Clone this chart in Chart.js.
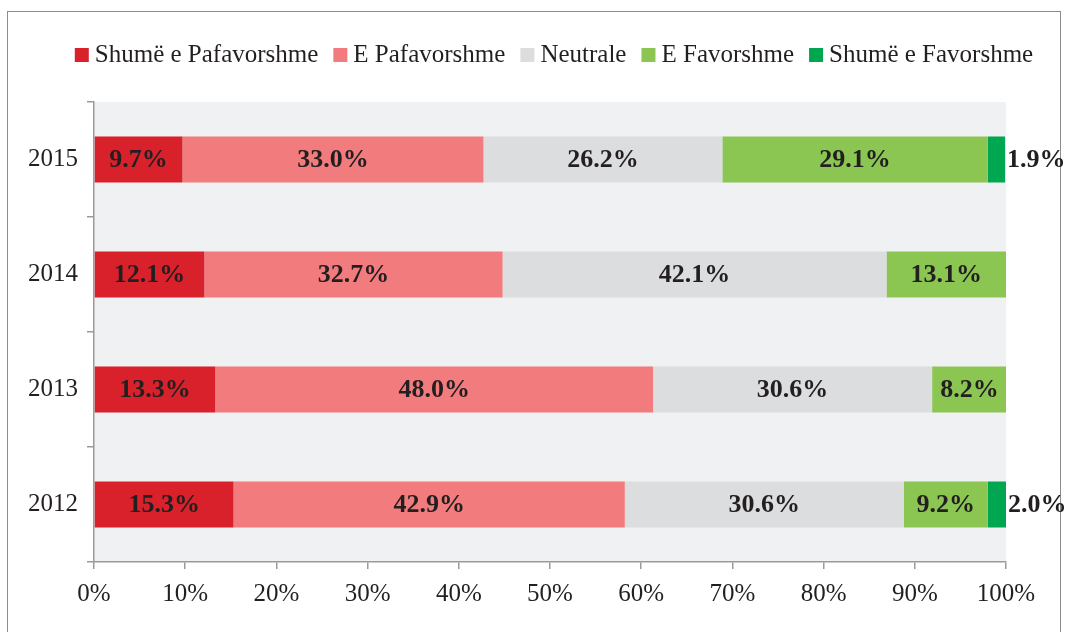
<!DOCTYPE html>
<html>
<head>
<meta charset="utf-8">
<script src="https://cdn.jsdelivr.net/npm/chart.js@4/dist/chart.umd.min.js"></script>
<style>
  html, body { margin: 0; padding: 0; background: #fff; }
  .wrap { position: relative; width: 1067px; height: 632px; overflow: hidden; }
  .frame { position: absolute; left: 7px; top: 11px; width: 1054px; height: 700px; border: 1px solid #8c8c8c; box-sizing: border-box; }
  canvas { position: absolute; left: 0; top: 0; }
</style>
</head>
<body>
<div class="wrap">
  <div class="frame"></div>
  <canvas id="chart" width="1067" height="632"></canvas>
</div>
<script>
const years = ['2015', '2014', '2013', '2012'];
const shumePafavorshme = [9.7, 12.1, 13.3, 15.3];
const ePafavorshme = [33.0, 32.7, 48.0, 42.9];
const neutrale = [26.2, 42.1, 30.6, 30.6];
const eFavorshme = [29.1, 13.1, 8.2, 9.2];
const shumeFavorshme = [1.9, 0, 0, 2.0];
const xTicks = [0, 10, 20, 30, 40, 50, 60, 70, 80, 90, 100];

const serif = "'Liberation Serif', 'DejaVu Serif', serif";
const textColor = '#231f20';

const plotBackground = {
  id: 'plotBackground',
  beforeDraw(chart) {
    const { ctx, chartArea } = chart;
    ctx.save();
    ctx.fillStyle = '#f0f1f3';
    ctx.fillRect(chartArea.left, chartArea.top, chartArea.right - chartArea.left, chartArea.bottom - chartArea.top);
    ctx.restore();
  }
};

// legend drawn by hand so it can sit centred over the whole frame
const topLegend = {
  id: 'topLegend',
  afterDraw(chart) {
    const { ctx } = chart;
    const box = 14, gap = 6, space = 15, centerX = 554, centerY = 55;
    ctx.save();
    ctx.font = '25px ' + serif;
    const items = chart.data.datasets.map(ds => ({
      label: ds.label, color: ds.backgroundColor, w: ctx.measureText(ds.label).width
    }));
    let total = items.reduce((s, it) => s + box + gap + it.w, 0) + space * (items.length - 1);
    let x = centerX - total / 2;
    ctx.textBaseline = 'middle';
    ctx.textAlign = 'left';
    items.forEach(it => {
      ctx.fillStyle = it.color;
      ctx.fillRect(x, centerY - box / 2, box, box);
      ctx.fillStyle = textColor;
      ctx.fillText(it.label, x + box + gap, centerY);
      x += box + gap + it.w + space;
    });
    ctx.restore();
  }
};

const barLabels = {
  id: 'barLabels',
  afterDatasetsDraw(chart) {
    const { ctx } = chart;
    ctx.save();
    ctx.font = 'bold 26px ' + serif;
    ctx.fillStyle = textColor;
    ctx.textBaseline = 'middle';
    chart.data.datasets.forEach((ds, i) => {
      const meta = chart.getDatasetMeta(i);
      meta.data.forEach((bar, j) => {
        const v = ds.data[j];
        if (!v) return;
        const label = v.toFixed(1) + '%';
        if (v < 3) {
          ctx.textAlign = 'left';
          ctx.fillText(label, bar.x + 2, bar.y + 1);
        } else {
          ctx.textAlign = 'center';
          ctx.fillText(label, (bar.x + bar.base) / 2, bar.y + 1);
        }
      });
    });
    ctx.restore();
  }
};

const makeSet = (label, data, color) => ({
  label: label,
  data: data,
  backgroundColor: color,
  borderWidth: 0,
  barPercentage: 0.4,
  categoryPercentage: 1.0
});

new Chart(document.getElementById('chart').getContext('2d'), {
  type: 'bar',
  data: {
    labels: years,
    datasets: [
      makeSet('Shumë e Pafavorshme', shumePafavorshme, '#d9212b'),
      makeSet('E Pafavorshme', ePafavorshme, '#f27b7d'),
      makeSet('Neutrale', neutrale, '#dcdddf'),
      makeSet('E Favorshme', eFavorshme, '#8bc552'),
      makeSet('Shumë e Favorshme', shumeFavorshme, '#00a650')
    ]
  },
  options: {
    indexAxis: 'y',
    responsive: false,
    animation: false,
    layout: { padding: { top: 102, right: 61, bottom: 0, left: 0 } },
    scales: {
      x: {
        stacked: true,
        min: 0,
        max: 100,
        afterBuildTicks(scale) {
          scale.ticks = xTicks.map(v => ({ value: v }));
        },
        afterFit(scale) { scale.height = 70; },
        border: { display: true, color: '#9a9a9a', width: 1.5 },
        grid: { drawOnChartArea: false, tickLength: 7, color: '#9a9a9a', lineWidth: 1.5 },
        ticks: {
          color: textColor,
          font: { family: serif, size: 25 },
          padding: 10,
          callback: v => v + '%'
        }
      },
      y: {
        stacked: true,
        afterFit(scale) { scale.width = 94; },
        border: { display: true, color: '#9a9a9a', width: 1.5 },
        grid: { drawOnChartArea: false, offset: true, tickLength: 7, color: '#9a9a9a', lineWidth: 1.5 },
        ticks: {
          color: textColor,
          font: { family: serif, size: 25 },
          padding: 9
        }
      }
    },
    plugins: {
      legend: { display: false },
      tooltip: { enabled: false }
    }
  },
  plugins: [plotBackground, topLegend, barLabels]
});
</script>
</body>
</html>
